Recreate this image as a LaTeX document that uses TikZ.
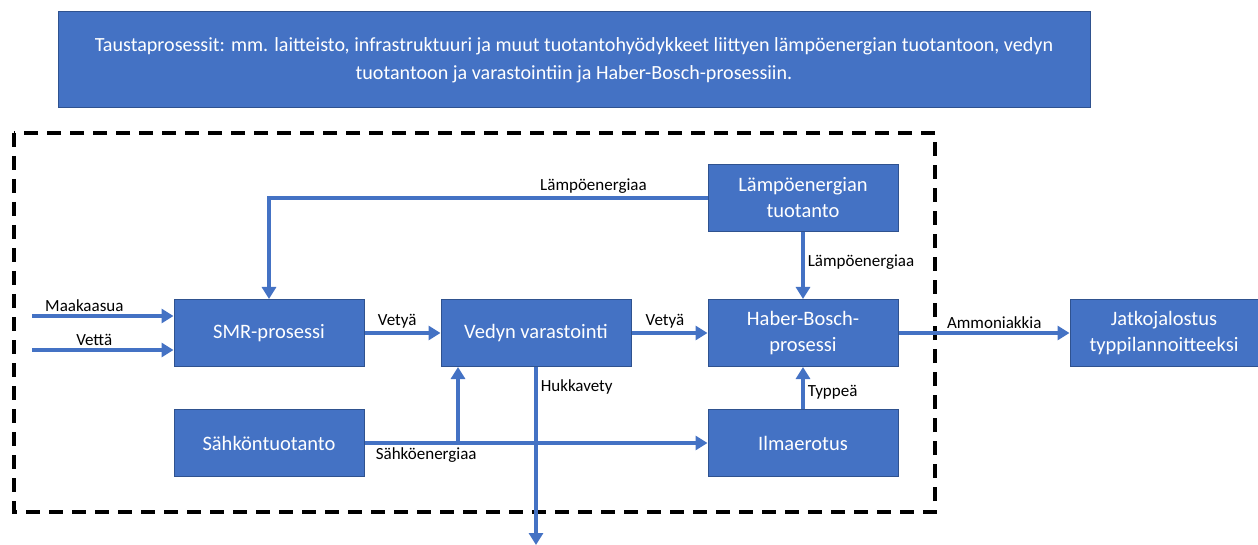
\documentclass[tikz,border=0pt]{standalone}
\usepackage{fontspec}
\setmainfont{Carlito}
\usetikzlibrary{arrows.meta}
\definecolor{myblue}{RGB}{68,114,196}
\definecolor{mydarkblue}{RGB}{47,82,143}
\tikzset{>={Triangle[length=12pt,width=14pt]}}

\begin{document}
\begin{tikzpicture}[x=1pt,y=-1pt,
    procbox/.style={draw=mydarkblue,line width=1pt,fill=myblue,text=white,
      minimum width=190pt,minimum height=67pt,align=center,
      font=\fontsize{20.5}{26}\selectfont},
    flow/.style={->,draw=myblue,line width=3.5pt},
    lbl/.style={font=\fontsize{17}{20}\selectfont,inner sep=3pt}]
  \useasboundingbox (0,0) rectangle (1258,545);

  % background processes
  \node[draw=mydarkblue,line width=1pt,fill=myblue,text=white,
    minimum width=1032pt,minimum height=96pt,align=center,
    font=\fontsize{20.1}{28}\selectfont] (bg) at (574,60)
    {Taustaprosessit: mm. laitteisto, infrastruktuuri ja muut tuotantohyödykkeet liittyen lämpöenergian tuotantoon, vedyn\\
     tuotantoon ja varastointiin ja Haber-Bosch-prosessiin.};

  % system boundary
  \draw[line width=4pt,dash pattern=on 14pt off 9pt] (14,133) rectangle (935,512);

  % boxes
  \node[procbox] (smr)    at (269,333) {SMR-prosessi};
  \node[procbox] (store)  at (536,333) {Vedyn varastointi};
  \node[procbox] (hb)     at (803,333) {Haber-Bosch-\\prosessi};
  \node[procbox] (heat)   at (803,198) {Lämpöenergian\\tuotanto};
  \node[procbox] (power)  at (269,443) {Sähköntuotanto};
  \node[procbox] (airsep) at (803,443) {Ilmaerotus};
  \node[procbox,minimum width=188pt] (refine) at (1164,333) {Jatkojalostus\\typpilannoitteeksi};

  % free ends
  \coordinate (gasin)   at (32,316);
  \coordinate (waterin) at (32,350);
  \coordinate (split)   at (458,443);
  \coordinate (waste)   at (536,545);

  % flows
  \draw[flow] (gasin) -- (gasin -| smr.west)
    node[lbl,above,pos=0.37] {Maakaasua};
  \draw[flow] (waterin) -- (waterin -| smr.west)
    node[lbl,above,pos=0.44] {Vettä};
  \draw[flow] (smr) -- (store)
    node[lbl,above,pos=0.43] {Vetyä};
  \draw[flow] (store) -- (hb)
    node[lbl,above,pos=0.44] {Vetyä};
  \draw[flow] (heat.west) -| (smr.north)
    node[lbl,above,pos=0.13] {Lämpöenergiaa};
  \draw[flow] (heat) -- (hb)
    node[lbl,right,pos=0.45] {Lämpöenergiaa};
  \draw[flow] (hb) -- (refine)
    node[lbl,above,pos=0.56] {Ammoniakkia};
  \draw[flow] (airsep) -- (hb)
    node[lbl,right,pos=0.4] {Typpeä};
  \draw[flow] (power) -- (airsep)
    node[lbl,below,pos=0.18] {Sähköenergiaa};
  \draw[flow] (split) -- (split |- store.south);
  \draw[flow] (store.south) -- (waste)
    node[lbl,right,pos=0.11] {Hukkavety};

\end{tikzpicture}
\end{document}
